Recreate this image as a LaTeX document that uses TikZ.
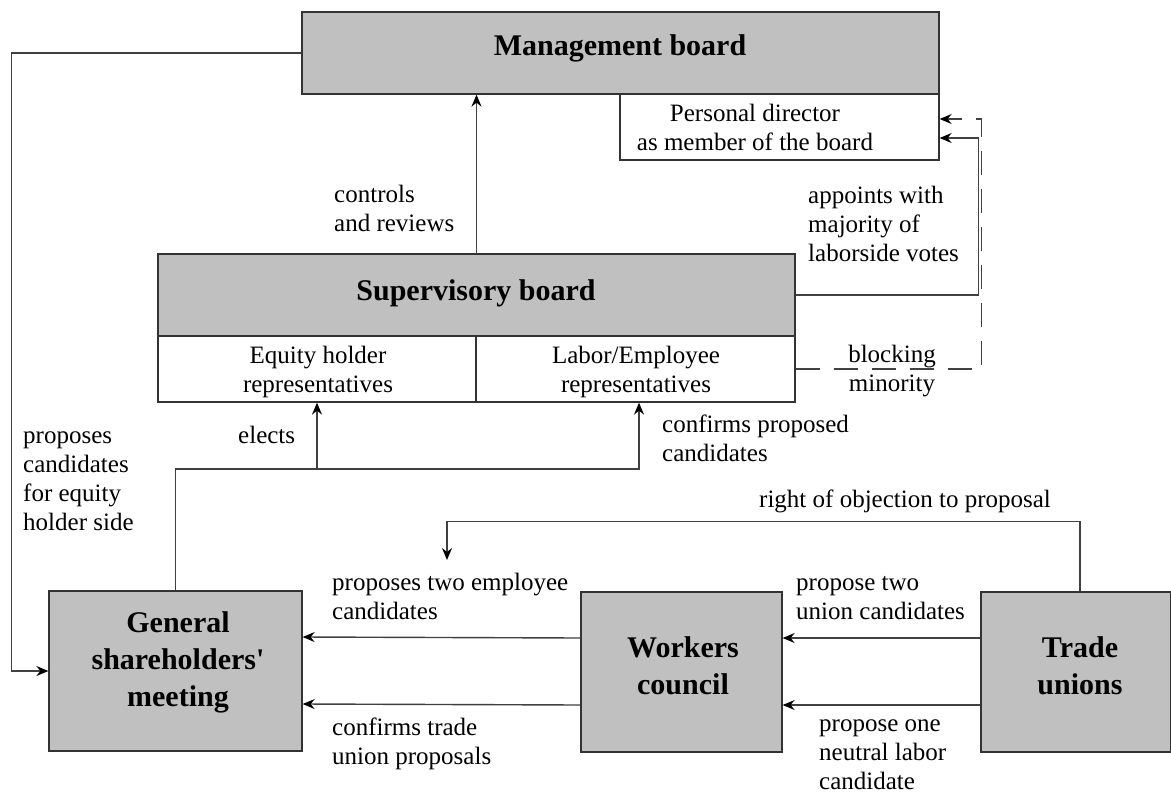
\documentclass[tikz,border=0pt]{standalone}
\usepackage{fontspec}
\setmainfont{Liberation Serif}
\usetikzlibrary{arrows.meta}
\definecolor{boxgray}{RGB}{192,192,192}
\begin{document}
\begin{tikzpicture}[x=1pt,y=-1pt,
  box/.style={draw=black!80,line width=1.3pt,fill=boxgray,inner sep=0pt},
  wbox/.style={draw=black!80,line width=1.3pt,fill=white,inner sep=0pt},
  conn/.style={draw=black!75,line width=1.4pt},
  arr/.style={conn,-{Stealth[length=12pt,width=10pt,inset=4pt,color=black]}},
  lbl/.style={font=\fontsize{25}{29}\selectfont,align=left,inner sep=0pt,anchor=base west},
  ctr/.style={font=\fontsize{25}{29}\selectfont,align=center,inner sep=0pt,anchor=base},
  ttl/.style={font=\fontsize{30}{37}\selectfont\bfseries,align=center,inner sep=0pt,anchor=base},
]
\useasboundingbox[fill=white] (0,0) rectangle (1171,796);

% boxes
\node[box,minimum width=637pt,minimum height=82pt] (mb) at (620.5,53) {};
\node[wbox,minimum width=319pt,minimum height=66pt] (pd) at (779.5,127) {};
\node[box,minimum width=637pt,minimum height=82pt] (sb) at (476.5,295) {};
\node[wbox,minimum width=318pt,minimum height=66pt] (eq) at (317,369) {};
\node[wbox,minimum width=319pt,minimum height=66pt] (lab) at (635.5,369) {};
\node[box,minimum width=253pt,minimum height=160pt] (gsm) at (175.5,671) {};
\node[box,minimum width=201pt,minimum height=160pt] (wc) at (681.5,672) {};
\node[box,minimum width=190pt,minimum height=160pt] (tu) at (1076,672) {};

% box texts (base = baseline of last line)
\node[ttl] (mbt) at (620,55) {Management board};
\node[ctr] (pdt) at (755,150) {Personal director\\as member of the board};
\node[ttl] (sbt) at (476,300) {Supervisory board};
\node[ctr] (eqt) at (318,392) {Equity holder\\representatives};
\node[ctr] (labt) at (636,392) {Labor/Employee\\representatives};
\node[ttl] (gsmt) at (178,706) {General\\shareholders\textquotesingle\\meeting};
\node[ttl] (wct) at (683,694) {Workers\\council};
\node[ttl] (tut) at (1080,694) {Trade\\unions};

% labels
\node[lbl] (l1) at (334,231) {controls\\and reviews};
\node[lbl] (l2) at (808,261) {appoints with\\majority of\\laborside votes};
\node[ctr] (l3) at (892,391) {blocking\\minority};
\node[lbl] (l4) at (238,443) {elects};
\node[lbl] (l5) at (662,461) {confirms proposed\\candidates};
\node[lbl] (l6) at (23,530) {proposes\\candidates\\for equity\\holder side};
\node[lbl] (l7) at (759,507) {right of objection to proposal};
\node[lbl] (l8) at (332,619) {proposes two employee\\candidates};
\node[lbl] (l9) at (332,764) {confirms trade\\union proposals};
\node[lbl] (l10) at (796,619) {propose two\\union candidates};
\node[lbl] (l11) at (819,789) {propose one\\neutral labor\\candidate};

% connectors
\draw[arr] (mb.west) -- ++(-290,0) |- (gsm.west);
\draw[arr] (sb.north) -- (mb.south -| sb.north);
\draw[arr] (sb.east) -- ++(183,0) |- ([yshift=-11pt]pd.east);
\draw[arr,dash pattern=on 24pt off 14pt] (lab.east) -- ++(186,0) |- ([yshift=8pt]pd.east);
\coordinate (jn) at (317,469);
\draw[conn] (gsm.north) |- (jn);
\draw[arr] (jn) -- (eq.south);
\draw[arr] (jn) -| ([xshift=3.5pt]lab.south);
\coordinate (objend) at (447,560);
\draw[arr] ([xshift=4pt]tu.north) -- ++(0,-70) -| (objend);
\draw[arr] ([yshift=34pt]tu.west) -- ([yshift=34pt]wc.east);
\draw[arr] ([yshift=-33pt]tu.west) -- ([yshift=-33pt]wc.east);
\draw[arr] ([yshift=34pt]wc.west) -- ([yshift=34pt]gsm.east);
\draw[arr] ([yshift=-33pt]wc.west) -- ([yshift=-33pt]gsm.east);
\end{tikzpicture}
\end{document}
